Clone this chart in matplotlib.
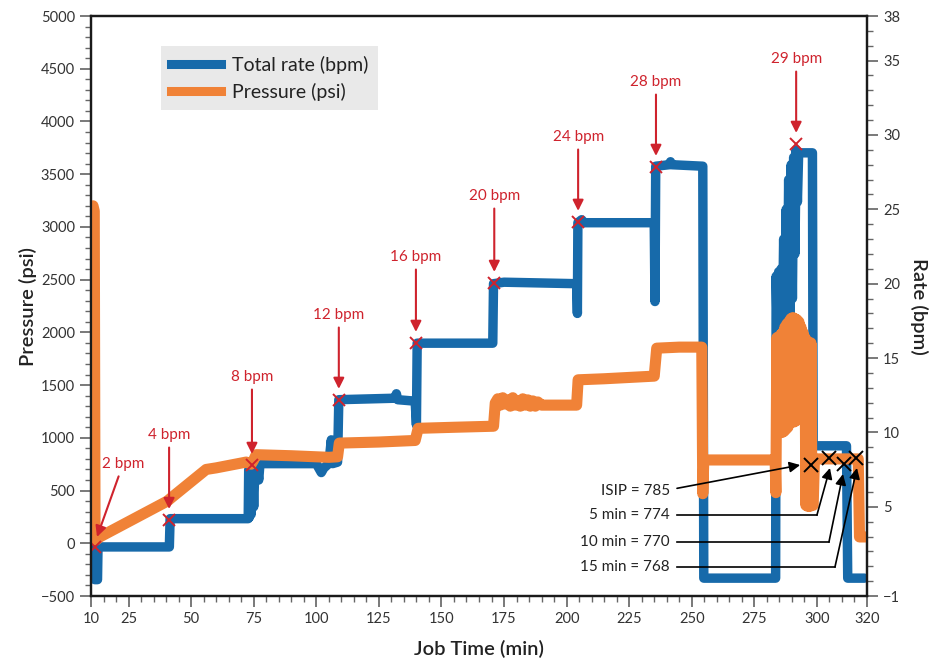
import numpy as np
import matplotlib.pyplot as plt
from matplotlib.ticker import MultipleLocator
from matplotlib.lines import Line2D

plt.rcParams['font.family'] = ['Lato', 'DejaVu Sans']

BLUE = '#176aaa'
ORANGE = '#f08237'
RED = '#cf232d'

# total rate (bpm) vs job time (min)
rate_t = [11.2, 11.5, 12.6, 12.8, 41.3, 41.6, 72.8, 73.0, 73.3, 73.6, 74.0, 74.5, 75.0, 75.5,
          76.5, 77.0, 77.5, 100.0, 102.0, 103.0, 105.0, 106.0, 106.5, 108.5, 109.0, 131.5,
          132.0, 132.5, 139.5, 140.0, 140.3, 170.5, 170.8, 175.0, 204.0, 204.3, 204.5, 206.0,
          207.0, 235.0, 235.3, 235.6, 241.0, 241.5, 242.0, 254.4, 254.8, 283.5,
          283.7, 284.2, 284.7, 285.2, 285.7, 286.2, 286.7, 287.2, 287.7, 288.2, 288.7, 289.2,
          289.7, 290.2, 290.7, 291.2, 291.7, 292.2, 292.7, 298.2, 298.5, 311.8, 312.3, 319.0]
rate_v = [2.3, 0.1, 0.1, 2.3, 2.3, 4.2, 4.2, 7.5, 4.3, 7.9, 4.5, 7.8, 5.0, 7.9,
          7.6, 6.8, 7.9, 7.9, 7.3, 7.6, 7.9, 9.5, 7.9, 8.0, 12.2, 12.3,
          12.6, 12.2, 12.1, 10.5, 16.0, 16.0, 20.0, 20.1, 20.0, 18.0, 24.1, 24.3,
          24.1, 24.1, 18.8, 27.9, 28.0, 28.2, 28.0, 27.9, 0.2, 0.2,
          20.5, 16.0, 20.8, 16.2, 21.0, 16.5, 23.0, 17.0, 25.0, 17.5, 27.0, 18.0,
          28.0, 19.0, 28.5, 22.0, 29.0, 25.5, 28.8, 28.8, 9.1, 9.1, 0.2, 0.2]

# pressure (psi) vs job time (min)
pres_t = [10.8, 11.3, 11.6, 12.0, 13.5, 40.5, 42.0, 56.0, 60.0, 72.0, 74.0, 75.0, 76.0, 90.0,
          105.0, 108.5, 109.2, 125.0, 139.5, 140.7, 155.0, 170.8, 171.5, 172.5, 173.5, 174.5,
          175.5, 176.5, 177.5, 178.5, 179.5, 180.5, 181.5, 182.5, 183.5, 184.5, 185.5, 186.5,
          187.5, 188.5, 190.0, 204.0, 204.6, 215.0, 235.0, 236.0, 245.0, 254.0, 254.4, 254.8,
          283.3, 283.6, 284.0, 284.4, 284.8, 285.2, 285.6, 286.0, 286.4, 286.8, 287.2, 287.6,
          288.0, 288.4, 288.8, 289.2, 289.6, 290.0, 290.4, 290.8, 291.2, 291.6, 292.0, 292.4,
          292.8, 293.2, 293.6, 294.0, 294.4, 294.8, 295.2, 295.6, 296.0, 296.4, 296.8, 297.2,
          297.6, 298.0, 298.5, 299.0, 316.5, 317.0, 319.5]
pres_v = [3200, 3150, 200, 30, 60, 400, 430, 700, 715, 770, 750, 790, 840, 830,
          815, 820, 950, 960, 975, 1090, 1100, 1110, 1330, 1370, 1310, 1380,
          1320, 1360, 1300, 1380, 1310, 1350, 1300, 1370, 1310, 1360, 1300, 1350,
          1300, 1340, 1310, 1310, 1550, 1560, 1585, 1850, 1860, 1860, 470, 790,
          790, 480, 1950, 1050, 1950, 1050, 1980, 1050, 2000, 1060, 2050, 1080,
          2080, 1100, 2100, 1150, 2130, 1150, 2140, 1150, 2130, 1160, 2120, 1180,
          2100, 1200, 2050, 1250, 2000, 1300, 1950, 360, 1920, 350, 1900, 350,
          1900, 360, 360, 800, 800, 60, 60]

# rate step annotations (placed in pressure units)
step_lbl = ['2 bpm', '4 bpm', '8 bpm', '12 bpm', '16 bpm', '20 bpm', '24 bpm', '28 bpm', '29 bpm']
step_t = [11.6, 41.2, 74.3, 109.0, 139.8, 171.1, 204.6, 235.7, 291.7]
step_p = [-35, 220, 742, 1359, 1899, 2468, 3047, 3568, 3786]
step_lbl_t = [22.8, 41.2, 74.3, 109.0, 139.8, 171.1, 204.6, 235.7, 291.7]
step_lbl_p = [752, 1027, 1577, 2165, 2715, 3293, 3853, 4374, 4592]

# shut-in pressures
shut_lbl = ['ISIP = 785', '5 min = 774', '10 min = 770', '15 min = 768']
shut_t = [297.6, 304.8, 310.8, 315.6]
shut_p = [742, 809, 752, 809]
shut_lbl_p = [496, 268, 12, -225]

fig = plt.figure(figsize=(9.38, 6.58), dpi=100)
ax = fig.add_axes([91 / 938, 62 / 658, 776 / 938, 580 / 658])
ax2 = ax.twinx()
ax.set_zorder(ax2.get_zorder() + 1)
ax.patch.set_visible(False)

ax2.plot(rate_t, rate_v, color=BLUE, lw=6.8, solid_joinstyle='round', solid_capstyle='round')
ax.plot(pres_t, pres_v, color=ORANGE, lw=8, solid_joinstyle='round', solid_capstyle='round')

ax.set_xlim(10, 320)
ax.set_ylim(-500, 5000)
ax2.set_ylim(-1, 38)

ax.set_xticks([10, 25, 50, 75, 100, 125, 150, 175, 200, 225, 250, 275, 300, 320])
ax.xaxis.set_minor_locator(MultipleLocator(5))
ax.set_yticks(np.arange(-500, 5001, 500))
ax.yaxis.set_minor_locator(MultipleLocator(100))
ax2.set_yticks([-1, 5, 10, 15, 20, 25, 30, 35, 38])
ax2.yaxis.set_minor_locator(MultipleLocator(1))

for a in (ax, ax2):
    a.tick_params(which='major', length=8, width=1.1, direction='out', color='#555555',
                  labelsize=10.5, labelcolor='#333333')
    a.tick_params(which='minor', length=4.5, width=1.0, direction='out', color='#666666')
    for s in a.spines.values():
        s.set_linewidth(1.6)
        s.set_color('#1a1a1a')

ax.set_xlabel('Job Time (min)', fontsize=14.5, fontweight='semibold', color='#222222', labelpad=10)
ax.set_ylabel('Pressure (psi)', fontsize=14.5, fontweight='semibold', color='#222222', labelpad=3)
ax2.set_ylabel('Rate (bpm)', fontsize=14.5, fontweight='semibold', color='#222222',
               rotation=270, labelpad=20)

# red step markers and arrows
for i in range(len(step_lbl)):
    ax.plot(step_t[i], step_p[i], marker='x', color=RED, ms=9, mew=1.4)
    if i == 0:
        tip = (12.4, 60)
    else:
        tip = (step_t[i], step_p[i] + 105)
    ax.annotate(step_lbl[i], xy=tip, xytext=(step_lbl_t[i], step_lbl_p[i]),
                ha='center', va='center', fontsize=11, color=RED,
                arrowprops=dict(arrowstyle='-|>', color=RED, lw=1.5, mutation_scale=16,
                                shrinkA=2, shrinkB=0))

# shut-in markers and leader lines
ax.plot(shut_t, shut_p, 'x', color='black', ms=10, mew=1.4, ls='none')
tail_t = 244.1
corner_t = [None, 300.0, 304.8, 307.2]
tips = [(293.3, 742), (305.2, 714), (310.4, 657), (316.0, 714)]
for i in range(4):
    ax.text(241.3, shut_lbl_p[i], shut_lbl[i], ha='right', va='center', fontsize=11, color='#222222')
    if i == 0:
        start = (tail_t, shut_lbl_p[i] + 25)
    else:
        ax.plot([tail_t, corner_t[i]], [shut_lbl_p[i], shut_lbl_p[i]], color='black', lw=1.2)
        start = (corner_t[i], shut_lbl_p[i])
    ax.annotate('', xy=tips[i], xytext=start,
                arrowprops=dict(arrowstyle='-|>', color='black', lw=1.2, mutation_scale=16,
                                shrinkA=0, shrinkB=0))

handles = [Line2D([0], [0], color=BLUE, lw=6.5), Line2D([0], [0], color=ORANGE, lw=6.5)]
leg = ax.legend(handles, ['Total rate (bpm)', 'Pressure (psi)'], loc='upper left',
                bbox_to_anchor=(0.09, 0.948), borderaxespad=0, fontsize=14,
                handlelength=2.6, handletextpad=0.55, labelspacing=0.45, borderpad=0.5,
                fancybox=False, frameon=True)
leg.get_frame().set_facecolor('#e9e9e9')
leg.get_frame().set_edgecolor('none')
leg.get_frame().set_alpha(1)
for t in leg.get_texts():
    t.set_color('#222222')

fig.savefig('out.png', dpi=100)
